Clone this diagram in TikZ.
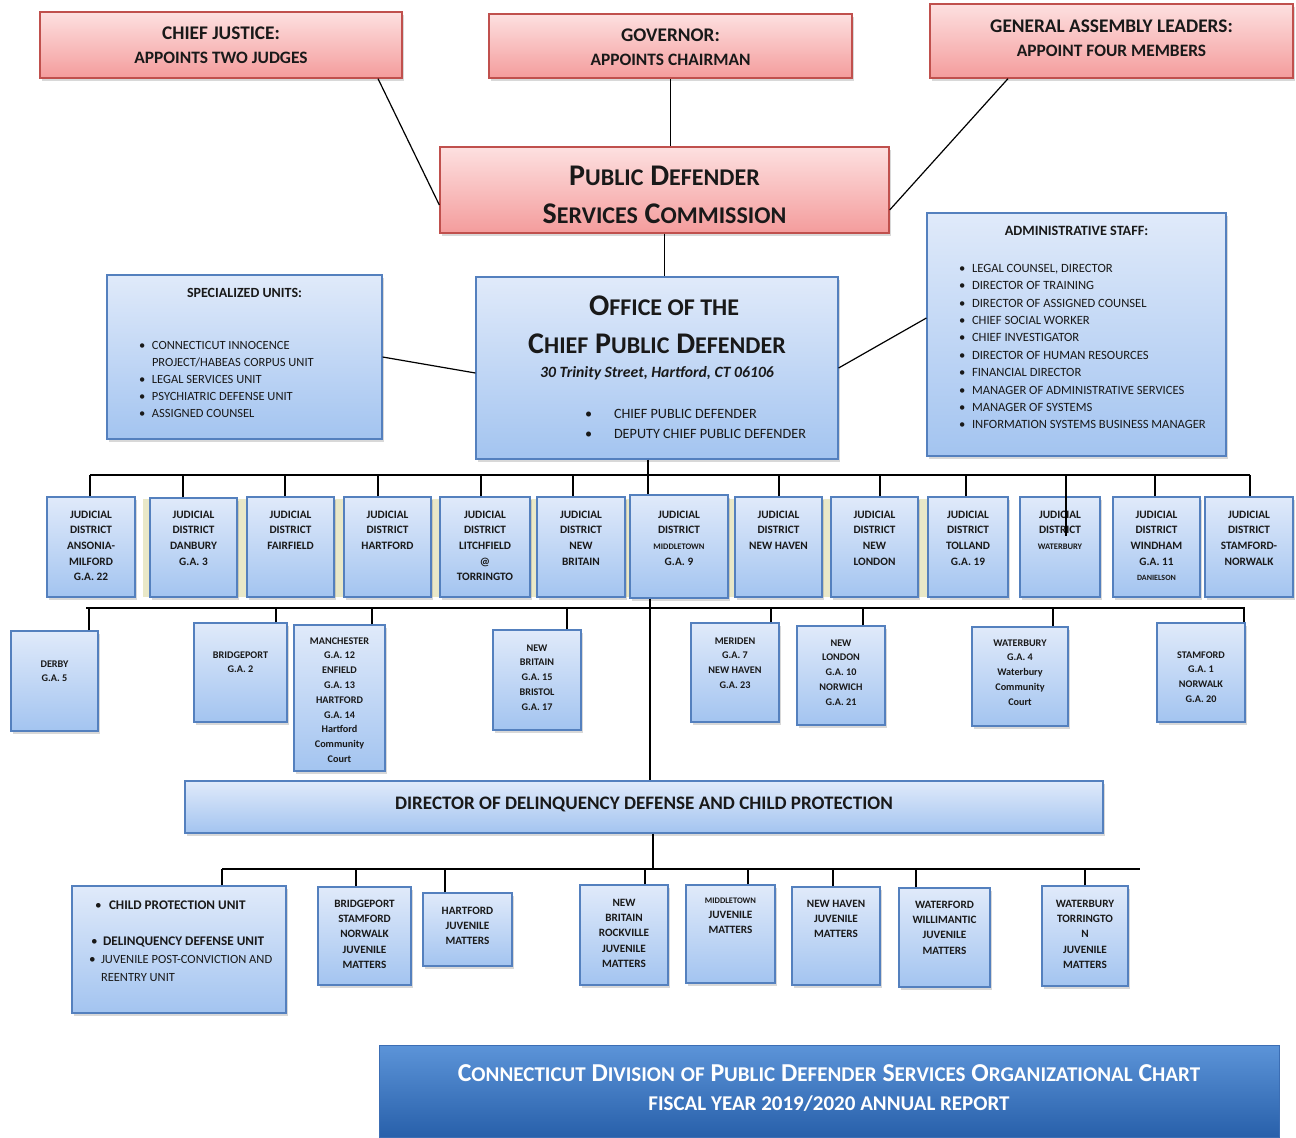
\documentclass[tikz,border=0pt]{standalone}
\usepackage{fontspec}
\setmainfont{Carlito}
\usetikzlibrary{shadows}
\definecolor{bluetop}{RGB}{224,234,250}
\definecolor{bluebot}{RGB}{163,196,240}
\definecolor{boxblue}{RGB}{84,128,190}
\definecolor{redtop}{RGB}{253,224,224}
\definecolor{redbot}{RGB}{244,156,156}
\definecolor{redline}{RGB}{192,80,77}
\definecolor{foottop}{RGB}{92,148,216}
\definecolor{footbot}{RGB}{40,96,170}
\definecolor{footline}{RGB}{60,110,180}
\definecolor{beige}{RGB}{233,232,200}
\definecolor{ink}{RGB}{25,25,25}
\newcommand\bx[7]{%
  \pgfmathsetmacro\bw{#5-#3}%
  \pgfmathsetmacro\bh{#6-#4}%
  \node[#1, inner sep=0pt, minimum width=\bw pt, minimum height=\bh pt] (#2) at ({(#3+#5)/2},{(#4+#6)/2})
    {\begin{minipage}[c][\bh pt][t]{\bw pt}\centering #7\end{minipage}};}
\newcommand\drop[3]{\draw[conn] ([xshift=#2pt]#1.north) -- ([xshift=#2pt]#1.north |- #3);}
\newcommand\jd{\fontsize{11.3}{15.7}\selectfont\bfseries}
\newcommand\gafont{\fontsize{10.2}{14.8}\selectfont\bfseries}
\newcommand\jvfont{\fontsize{11.2}{15.4}\selectfont\bfseries}
\newcommand\tinyc{\fontsize{8.5}{15}\selectfont}
\newcommand\scA{\fontsize{24}{38}\selectfont}
\newcommand\scB{\fontsize{21}{29}\selectfont}
\newcommand\bul[1]{\makebox[#1][l]{•}}
\tikzset{
  bluebox/.style={draw=boxblue, line width=1.2pt, top color=bluetop, bottom color=bluebot, text=ink,
    drop shadow={shadow xshift=2pt, shadow yshift=-2.5pt, opacity=0.3}},
  redbox/.style={draw=redline, line width=1.3pt, top color=redtop, bottom color=redbot, text=ink,
    drop shadow={shadow xshift=2pt, shadow yshift=-2.5pt, opacity=0.3}},
  footbox/.style={draw=footline, line width=1pt, top color=foottop, bottom color=footbot, text=white},
  conn/.style={draw=black, line width=1.2pt},
  bus/.style={draw=black, line width=1.8pt}
}
\begin{document}
\begin{tikzpicture}[x=1pt,y=-1pt]
\fill[white] (0,0) rectangle (1296,1138);
\useasboundingbox (0,0) rectangle (1296,1138);
% beige strip behind district boxes
\fill[beige] (143,499) rectangle (928,597);

% top
\bx{redbox}{cj}{40}{12}{402}{78}{\bfseries\fontsize{17.4}{24.5}\selectfont\vspace*{14.6pt}{\fontsize{19.3}{24.5}\selectfont CHIEF JUSTICE:}\\APPOINTS TWO JUDGES}
\bx{redbox}{gov}{489}{14}{852}{78}{\bfseries\fontsize{17.4}{24}\selectfont\vspace*{14.6pt}{\fontsize{19.3}{24}\selectfont GOVERNOR:}\\APPOINTS CHAIRMAN}
\bx{redbox}{ga}{930}{4}{1293}{78}{\bfseries\fontsize{17.4}{24.5}\selectfont\vspace*{15.6pt}{\fontsize{19.3}{24.5}\selectfont GENERAL ASSEMBLY LEADERS:}\\APPOINT FOUR MEMBERS}
\bx{redbox}{pdsc}{440}{147}{889}{233}{\bfseries\fontsize{30}{38}\selectfont\vspace*{18.7pt}P{\scA UBLIC} D{\scA EFENDER}\\S{\scA ERVICES} C{\scA OMMISSION}}

% office
\bx{bluebox}{off}{476}{277}{838}{459}{\vspace*{18.7pt}{\bfseries\fontsize{30}{38}\selectfont \hspace*{14pt}O{\scA FFICE OF THE}\\C{\scA HIEF} P{\scA UBLIC} D{\scA EFENDER}\par}
  {\fontsize{15.7}{24}\selectfont\bfseries\itshape 30 Trinity Street, Hartford, CT 06106\par}
  \vspace{21.5pt}
  {\fontsize{14.2}{20}\selectfont\raggedright\leftskip=109pt
  \bul{29pt}CHIEF PUBLIC DEFENDER\\
  \bul{29pt}DEPUTY CHIEF PUBLIC DEFENDER\par}}

\bx{bluebox}{spec}{107}{275}{382}{439}{\vspace*{13pt}{\fontsize{14}{17}\selectfont\bfseries SPECIALIZED UNITS:\par}\vspace{35pt}
  \fontsize{12.5}{17}\selectfont\raggedright\leftskip=32pt
  \bul{13pt}CONNECTICUT INNOCENCE\\
  \hspace*{13pt}PROJECT/HABEAS CORPUS UNIT\\
  \bul{13pt}LEGAL SERVICES UNIT\\
  \bul{13pt}PSYCHIATRIC DEFENSE UNIT\\
  \bul{13pt}ASSIGNED COUNSEL\par}

\bx{bluebox}{adm}{927}{213}{1226}{456}{\vspace*{12.9pt}{\fontsize{14.2}{17.4}\selectfont\bfseries ADMINISTRATIVE STAFF:\par}\vspace{19.6pt}
  \fontsize{12.6}{17.4}\selectfont\raggedright\leftskip=32pt
  \bul{13pt}LEGAL COUNSEL, DIRECTOR\\
  \bul{13pt}DIRECTOR OF TRAINING\\
  \bul{13pt}DIRECTOR OF ASSIGNED COUNSEL\\
  \bul{13pt}CHIEF SOCIAL WORKER\\
  \bul{13pt}CHIEF INVESTIGATOR\\
  \bul{13pt}DIRECTOR OF HUMAN RESOURCES\\
  \bul{13pt}FINANCIAL DIRECTOR\\
  \bul{13pt}MANAGER OF ADMINISTRATIVE SERVICES\\
  \bul{13pt}MANAGER OF SYSTEMS\\
  \bul{13pt}INFORMATION SYSTEMS BUSINESS MANAGER\par}

% judicial districts
\bx{bluebox}{ans}{47}{497}{135}{597}{\jd\vspace*{13.7pt}JUDICIAL\\DISTRICT\\ANSONIA-\\MILFORD\\G.A. 22}
\bx{bluebox}{dan}{150}{498}{237}{597}{\jd\vspace*{12.7pt}JUDICIAL\\DISTRICT\\DANBURY\\G.A. 3}
\bx{bluebox}{fai}{247}{497}{334}{597}{\jd\vspace*{13.7pt}JUDICIAL\\DISTRICT\\FAIRFIELD}
\bx{bluebox}{har}{344}{497}{431}{597}{\jd\vspace*{13.7pt}JUDICIAL\\DISTRICT\\HARTFORD}
\bx{bluebox}{lit}{440}{497}{530}{597}{\jd\vspace*{13.7pt}JUDICIAL\\DISTRICT\\LITCHFIELD\\@\\TORRINGTO}
\bx{bluebox}{nbr}{537}{497}{625}{597}{\jd\vspace*{13.7pt}JUDICIAL\\DISTRICT\\NEW\\BRITAIN}
\bx{bluebox}{mid}{630}{495}{728}{598}{\jd\vspace*{15.7pt}JUDICIAL\\DISTRICT\\{\tinyc MIDDLETOWN}\\G.A. 9}
\bx{bluebox}{nhv}{735}{497}{822}{597}{\jd\vspace*{13.7pt}JUDICIAL\\DISTRICT\\NEW HAVEN}
\bx{bluebox}{nlo}{831}{497}{918}{597}{\jd\vspace*{13.7pt}JUDICIAL\\DISTRICT\\NEW\\LONDON}
\bx{bluebox}{tol}{928}{497}{1008}{597}{\jd\vspace*{13.7pt}JUDICIAL\\DISTRICT\\TOLLAND\\G.A. 19}
\bx{bluebox}{wtb}{1020}{497}{1100}{597}{\jd\vspace*{13.7pt}JUDICIAL\\DISTRICT\\{\tinyc WATERBURY}}
\bx{bluebox}{win}{1113}{497}{1200}{597}{\jd\vspace*{13.7pt}JUDICIAL\\DISTRICT\\WINDHAM\\G.A. 11\\{\fontsize{8}{15}\selectfont DANIELSON}}
\bx{bluebox}{stn}{1205}{497}{1293}{597}{\jd\vspace*{13.7pt}JUDICIAL\\DISTRICT\\STAMFORD-\\NORWALK}

% G.A. row
\bx{bluebox}{der}{11}{631}{98}{731}{\gafont\vspace*{29.4pt}DERBY\\G.A. 5}
\bx{bluebox}{bri}{194}{623}{287}{722}{\gafont\vspace*{28.4pt}BRIDGEPORT\\G.A. 2}
\bx{bluebox}{man}{294}{625}{385}{771}{\gafont\vspace*{12.4pt}MANCHESTER\\G.A. 12\\ENFIELD\\G.A. 13\\HARTFORD\\G.A. 14\\Hartford\\Community\\Court}
\bx{bluebox}{gnb}{493}{630}{581}{730}{\gafont\vspace*{14.4pt}NEW\\BRITAIN\\G.A. 15\\BRISTOL\\G.A. 17}
\bx{bluebox}{mer}{691}{623}{779}{722}{\gafont\vspace*{14.4pt}MERIDEN\hspace*{14pt}\\G.A. 7\\NEW HAVEN\\G.A. 23}
\bx{bluebox}{gnl}{797}{626}{885}{725}{\gafont\vspace*{13.4pt}NEW\\LONDON\\G.A. 10\\NORWICH\\G.A. 21}
\bx{bluebox}{gwb}{972}{627}{1068}{726}{\gafont\vspace*{12.4pt}WATERBURY\hspace*{14pt}\\G.A. 4\\Waterbury\\Community\\Court}
\bx{bluebox}{gst}{1157}{623}{1245}{722}{\gafont\vspace*{28.4pt}STAMFORD\hspace*{10pt}\\G.A. 1\\NORWALK\\G.A. 20}

% director
\bx{bluebox}{dir}{185}{781}{1103}{833}{\bfseries\fontsize{19.1}{22}\selectfont\vspace*{15.7pt}DIRECTOR OF DELINQUENCY DEFENSE AND CHILD PROTECTION}

% juvenile row
\bx{bluebox}{cpu}{72}{886}{286}{1013}{\raggedright\fontsize{13.2}{18}\selectfont\vspace*{15pt}%
  \hspace*{23pt}\bul{14pt}\textbf{CHILD PROTECTION UNIT}\\[18pt]
  \hspace*{19pt}\bul{12pt}\textbf{DELINQUENCY DEFENSE UNIT}\\
  \hspace*{17pt}\bul{12pt}{\fontsize{12.5}{18}\selectfont JUVENILE POST-CONVICTION AND}\\
  \hspace*{29pt}{\fontsize{12.5}{17}\selectfont REENTRY UNIT}\par}
\bx{bluebox}{bsn}{318}{887}{411}{985}{\jvfont\vspace*{12.8pt}BRIDGEPORT\\STAMFORD\\NORWALK\\JUVENILE\\MATTERS}
\bx{bluebox}{hjm}{423}{893}{512}{966}{\jvfont\vspace*{13.8pt}HARTFORD\\JUVENILE\\MATTERS}
\bx{bluebox}{nbj}{580}{885}{668}{985}{\jvfont\vspace*{13.8pt}NEW\\BRITAIN\\ROCKVILLE\\JUVENILE\\MATTERS}
\bx{bluebox}{mdj}{686}{885}{775}{983}{\jvfont\vspace*{12.5pt}{\tinyc MIDDLETOWN}\\JUVENILE\\MATTERS}
\bx{bluebox}{nhj}{792}{887}{880}{985}{\jvfont\vspace*{12.8pt}NEW HAVEN\\JUVENILE\\MATTERS}
\bx{bluebox}{wfj}{899}{888}{990}{987}{\jvfont\vspace*{12.8pt}WATERFORD\\WILLIMANTIC\\JUVENILE\\MATTERS}
\bx{bluebox}{wtj}{1042}{886}{1128}{986}{\jvfont\vspace*{13.8pt}WATERBURY\\TORRINGTO\\N\\JUVENILE\\MATTERS}

% footer
\bx{footbox}{foot}{379}{1045}{1279}{1137}{\bfseries\fontsize{21}{29}\selectfont\vspace*{19.4pt}{\fontsize{25.8}{29}\selectfont C{\scB ONNECTICUT} D{\scB IVISION} {\scB OF} P{\scB UBLIC} D{\scB EFENDER} S{\scB ERVICES} O{\scB RGANIZATIONAL} C{\scB HART}}\\FISCAL YEAR 2019/2020 ANNUAL REPORT}

% bus coordinates
\coordinate (jbL) at (90,475);
\coordinate (jbR) at (1250,475);
\coordinate (gbL) at (86,608);
\coordinate (gbR) at (1245,608);
\coordinate (vbL) at (222,869);
\coordinate (vbR) at (1140,869);

% connectors top
\draw[conn] ([xshift=157pt]cj.south) -- ([yshift=-15pt]pdsc.west);
\draw[conn] (gov.south) -- (gov.south |- pdsc.north);
\draw[conn] ([xshift=-103.5pt]ga.south) -- ([yshift=-20pt]pdsc.east);
\draw[conn] (pdsc.south) -- (pdsc.south |- off.north);
\draw[conn] (spec.east) -- ([yshift=-5pt]off.west);
\draw[conn] (off.east) -- ([yshift=16.5pt]adm.west);

% judicial bus
\draw[bus] (jbL) -- (jbR);
\draw[conn] ([xshift=-9pt]off.south) -- ([xshift=-9pt]off.south |- mid.north);
\drop{ans}{-1}{jbL}
\drop{dan}{-10.5}{jbL}
\drop{fai}{-5.5}{jbL}
\drop{har}{-9.5}{jbL}
\drop{lit}{-4}{jbL}
\drop{nbr}{-8}{jbL}
\drop{nhv}{0.5}{jbL}
\drop{nlo}{5.5}{jbL}
\drop{tol}{-2}{jbL}
\draw[conn] ([xshift=6pt]wtb.north |- jbL) -- ([xshift=6pt,yshift=-40pt]wtb.north);
\drop{win}{-1.5}{jbL}
\drop{stn}{1}{jbL}

% G.A. bus
\draw[bus] (gbL) -- (gbR);
\drop{der}{34.5}{gbL}
\drop{bri}{35.5}{gbL}
\drop{man}{32.5}{gbL}
\drop{gnb}{30}{gbL}
\drop{mer}{36}{gbL}
\drop{gnl}{22}{gbL}
\drop{gwb}{33}{gbL}
\drop{gst}{43}{gbL}
\draw[conn] ([xshift=-29pt]mid.south) -- ([xshift=-29pt]mid.south |- dir.north);

% juvenile bus
\draw[conn] ([xshift=9pt]dir.south) -- ([xshift=9pt]dir.south |- vbL);
\draw[bus] (vbL) -- (vbR);
\drop{cpu}{43}{vbL}
\drop{bsn}{-8.5}{vbL}
\drop{hjm}{-22.5}{vbL}
\drop{nbj}{21}{vbL}
\drop{mdj}{17.5}{vbL}
\drop{nhj}{-3}{vbL}
\drop{wfj}{-28.5}{vbL}
\drop{wtj}{0}{vbL}
\end{tikzpicture}
\end{document}
